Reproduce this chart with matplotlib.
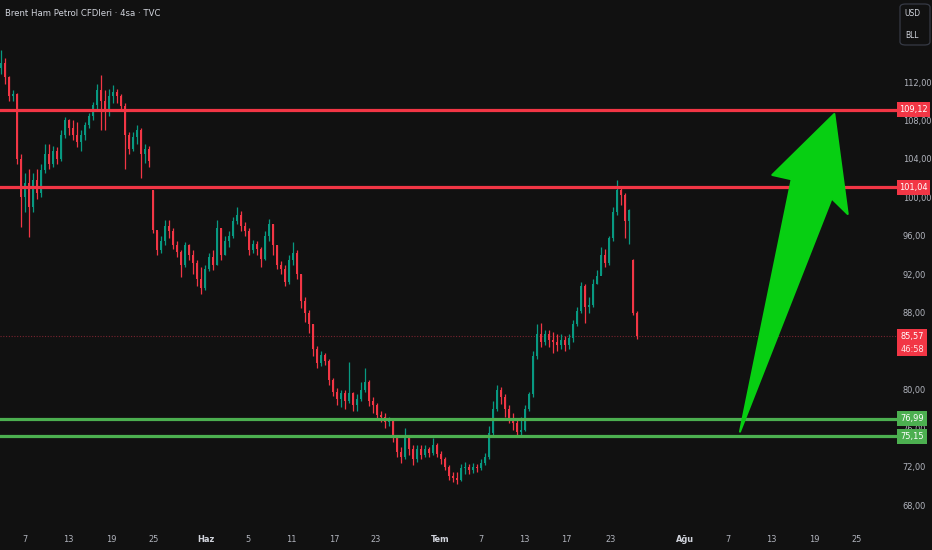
import matplotlib
matplotlib.use('Agg')
import matplotlib.pyplot as plt
import matplotlib.transforms as mtransforms
from matplotlib.patches import Polygon, Rectangle, FancyBboxPatch

plt.rcParams['font.family'] = ['DejaVu Sans']
plt.rcParams['font.stretch'] = 'condensed'

# ---------------- data ----------------
title = "Brent Ham Petrol CFDleri · 4sa · TVC"
first_open = 113.5
closes = [114.0, 112.5, 110.5, 110.8, 104.0, 100.0, 101.5, 99.0, 101.8, 100.5,
          102.8, 104.5, 103.5, 104.8, 104.0, 106.5, 108.0, 107.2, 106.5, 105.8,
          106.5, 107.5, 108.5, 109.6, 111.2, 110.0, 109.0, 110.5, 111.0, 110.5,
          109.5, 106.5, 105.0, 106.3, 107.0, 104.5, 105.0, 103.8, 96.6, 94.5,
          95.5, 97.0, 96.5, 95.0, 94.3, 93.0, 95.0, 94.0, 93.2, 91.5,
          90.6, 92.5, 93.8, 93.0, 96.8, 94.0, 95.5, 96.0, 97.5, 98.2,
          97.0, 96.5, 94.5, 95.2, 94.6, 93.6, 96.0, 97.2, 95.0, 93.0,
          92.6, 91.2, 93.5, 94.2, 92.0, 89.2, 88.0, 86.8, 84.2, 82.8,
          83.6, 83.0, 81.0, 79.8, 79.0, 79.6, 78.8, 79.6, 78.4, 79.0,
          80.0, 80.8, 78.8, 78.4, 77.4, 77.2, 76.6, 76.8, 75.0, 73.5,
          73.0, 75.0, 73.8, 72.8, 73.8, 73.2, 73.8, 73.4, 74.2, 73.3,
          72.8, 72.0, 71.0, 70.8, 70.6, 71.8, 72.0, 71.6, 72.0, 71.8,
          72.4, 73.0, 75.5, 78.0, 80.0, 79.2, 78.0, 77.0, 76.5, 75.6,
          75.8, 78.0, 79.5, 83.5, 85.8, 85.0, 85.8, 85.2, 85.0, 84.6,
          85.2, 84.6, 85.4, 86.8, 88.2, 90.8, 88.6, 88.8, 91.0, 91.8,
          94.0, 93.2, 95.8, 98.5, 100.8, 100.2, 97.5, 98.7, 88.0, 85.57]
highs = [115.3, 114.5, 112.6, 111.2, 110.9, 104.5, 102.5, 103.0, 102.5, 103.0,
         103.5, 105.6, 105.6, 105.3, 105.2, 107.0, 108.4, 108.2, 108.0, 107.8,
         107.0, 107.8, 108.8, 109.9, 111.8, 112.7, 111.2, 111.3, 111.7, 111.3,
         110.8, 109.8, 106.8, 106.8, 107.5, 107.2, 105.6, 105.3, 100.8, 96.5,
         96.0, 97.6, 97.6, 96.8, 95.5, 94.5, 95.4, 95.2, 94.5, 93.5,
         92.8, 93.0, 94.2, 94.5, 97.6, 96.8, 96.0, 96.5, 98.0, 99.0,
         98.6, 97.4, 96.8, 95.6, 95.5, 94.8, 96.5, 97.8, 97.2, 95.0,
         93.4, 93.0, 94.0, 95.4, 94.5, 92.0, 89.6, 88.3, 86.8, 84.5,
         84.0, 83.8, 83.2, 81.2, 80.2, 80.0, 80.0, 82.9, 79.8, 79.5,
         80.8, 82.2, 81.0, 79.2, 78.6, 77.8, 77.6, 77.2, 76.8, 75.2,
         74.0, 76.0, 75.2, 74.2, 74.2, 74.2, 74.2, 74.0, 75.0, 74.4,
         73.6, 73.0, 72.2, 71.4, 71.4, 72.3, 72.5, 72.3, 72.4, 72.3,
         72.8, 73.4, 76.2, 78.8, 80.5, 80.3, 79.5, 78.4, 77.6, 77.0,
         77.2, 78.4, 79.8, 84.0, 86.8, 86.9, 86.2, 86.2, 86.0, 85.8,
         85.8, 85.6, 85.8, 87.2, 88.6, 91.2, 91.0, 89.6, 91.5, 92.4,
         94.8, 94.6, 96.0, 99.0, 101.8, 101.2, 100.5, 98.8, 93.6, 88.2]
lows = [112.8, 111.8, 110.0, 110.0, 103.5, 96.9, 98.5, 95.9, 98.5, 99.8,
        100.0, 102.5, 103.0, 103.2, 103.5, 103.8, 106.2, 106.5, 106.0, 105.2,
        104.8, 106.0, 107.2, 108.0, 109.2, 107.0, 107.0, 108.5, 109.8, 109.8,
        109.0, 103.0, 104.5, 104.8, 105.5, 102.0, 103.6, 103.2, 96.3, 94.0,
        94.2, 95.0, 95.8, 94.6, 93.8, 91.7, 92.8, 93.5, 92.0, 90.8,
        90.0, 90.4, 92.3, 92.4, 93.0, 93.5, 94.0, 94.8, 95.8, 97.2,
        96.5, 96.0, 94.0, 94.2, 94.0, 92.8, 93.5, 95.5, 94.0, 92.5,
        92.0, 90.8, 91.0, 93.0, 91.5, 88.5, 87.0, 85.9, 83.5, 82.3,
        82.5, 82.6, 80.5, 79.3, 78.4, 78.2, 78.0, 78.6, 77.8, 77.8,
        78.8, 79.8, 78.3, 77.6, 76.8, 76.6, 76.0, 76.2, 74.6, 73.0,
        72.4, 72.8, 73.2, 72.2, 72.5, 72.8, 73.0, 73.0, 73.2, 73.0,
        72.3, 71.6, 70.6, 70.4, 70.2, 70.5, 71.2, 71.2, 71.3, 71.4,
        71.6, 72.2, 72.8, 75.2, 77.8, 78.5, 77.2, 76.5, 75.8, 75.2,
        75.1, 75.7, 77.8, 79.2, 83.2, 84.4, 84.6, 84.4, 83.8, 84.0,
        84.2, 84.0, 84.2, 85.0, 86.6, 88.0, 86.9, 88.0, 88.6, 91.0,
        92.0, 92.8, 93.0, 95.5, 98.2, 99.2, 95.8, 95.2, 87.8, 85.3]
gap_opens = {38: 100.8, 158: 93.5}

resistance_levels = [109.12, 101.04]
support_levels = [76.99, 75.15]
last_price = 85.57
countdown = "46:58"

# (84,00 is hidden behind the last-price label in the reference)
price_ticks = [68, 72, 76, 80, 88, 92, 96, 100, 104, 108, 112]
date_labels = ["7", "13", "19", "25", "Haz", "5", "11", "17", "23", "Tem",
               "7", "13", "17", "23", "Ağu", "7", "13", "19", "25"]
date_tick_pos = [6.0, 16.7, 27.5, 38.1, 51.2, 61.8, 72.5, 83.3, 93.7, 109.8,
                 120.0, 130.8, 141.4, 152.3, 171.0, 181.7, 192.5, 203.3, 213.9]
month_labels = {"Haz", "Tem", "Ağu"}

# arrow drawing (bar index, price)
arrow_pts = [(184.75, 75.63), (197.67, 101.88), (192.83, 102.33),
             (208.33, 108.67), (211.67, 98.27), (207.67, 99.90)]

# ---------------- style ----------------
BG = '#111111'
UP = '#089981'
DOWN = '#F23645'
RED = '#F23645'
GREEN = '#4CAF50'
TXT = '#B2B5BE'
FS = 6.6

fig = plt.figure(figsize=(9.32, 5.5), dpi=100, facecolor=BG)
ax = fig.add_axes([0, 25 / 550, 888 / 932, 525 / 550], facecolor=BG)

n = len(closes)
xs = list(range(n))
opens = [first_open] + closes[:-1]
for k, v in gap_opens.items():
    opens[k] = v
cols = [UP if c >= o else DOWN for o, c in zip(opens, closes)]
bottoms = [min(o, c) for o, c in zip(opens, closes)]
heights = [max(abs(c - o), 0.08) for o, c in zip(opens, closes)]

ax.vlines(xs, lows, highs, colors=cols, linewidth=0.9, zorder=2)
ax.bar(xs, heights, bottom=bottoms, width=0.62, color=cols, linewidth=0, zorder=2)

xmax_ext = 897 / 888
for lv in resistance_levels:
    ax.axhline(lv, xmin=0, xmax=xmax_ext, color=RED, linewidth=2.3, clip_on=False, zorder=3)
for lv in support_levels:
    ax.axhline(lv, xmin=0, xmax=xmax_ext, color=GREEN, linewidth=2.3, clip_on=False, zorder=3)
ax.axhline(last_price, xmin=0, xmax=xmax_ext, color='#7a2430', linewidth=0.8,
           linestyle=(0, (1, 1.5)), clip_on=False, zorder=1.8)

ax.add_patch(Polygon(arrow_pts, closed=True, facecolor='#07CF12', edgecolor='#07CF12',
                     linewidth=1.5, joinstyle='round', zorder=6))

# axes / ticks
for s in ax.spines.values():
    s.set_visible(False)
ax.yaxis.tick_right()
ax.set_yticks(price_ticks)
ax.set_yticklabels([f"{v:.2f}".replace('.', ',') for v in price_ticks])
ax.tick_params(axis='y', length=0, pad=10.5, colors=TXT, labelsize=FS)
ax.set_xticks(date_tick_pos)
ax.set_xticklabels(date_labels)
ax.tick_params(axis='x', length=0, pad=7, colors=TXT, labelsize=FS)
for lab in ax.get_xticklabels():
    if lab.get_text() in month_labels:
        lab.set_color('#D1D4DC')
        lab.set_fontweight('bold')

# price labels on the scale
blend = mtransforms.blended_transform_factory(fig.transFigure, ax.transData)
ppx = 9.614  # pixels per price unit


def scale_label(price, text, color, width_px, height_px=15, lines=None):
    h = height_px / ppx
    top = price + 7.5 / ppx
    rect = Rectangle((897 / 932, top - h), width_px / 932, h, transform=blend,
                     facecolor=color, edgecolor='none', clip_on=False, zorder=7)
    ax.add_patch(rect)
    cx = (897 + width_px / 2) / 932
    ax.text(cx, price, text, transform=blend, ha='center', va='center',
            color='white', fontsize=FS, clip_on=False, zorder=8)
    if lines:
        ax.text(cx, price - 13 / ppx, lines, transform=blend, ha='center', va='center',
                color='#FFE4E6', fontsize=FS, clip_on=False, zorder=8)


scale_label(resistance_levels[0], f"{resistance_levels[0]:.2f}".replace('.', ','), RED, 33)
scale_label(resistance_levels[1], f"{resistance_levels[1]:.2f}".replace('.', ','), RED, 33)
scale_label(support_levels[0], f"{support_levels[0]:.2f}".replace('.', ','), GREEN, 30)
scale_label(support_levels[1], f"{support_levels[1]:.2f}".replace('.', ','), GREEN, 30)
scale_label(last_price, f"{last_price:.2f}".replace('.', ','), RED, 30, height_px=27, lines=countdown)

ax.set_xlim(-0.25, 221.75)
ax.set_ylim(65.92, 120.53)

# title and currency box
fig.text(5 / 932, 1 - 14 / 550, title, ha='left', va='center', color='#D1D4DC', fontsize=6.8)
box = FancyBboxPatch((900 / 932, 1 - 45 / 550), 30 / 932, 41 / 550,
                     boxstyle='round,pad=0,rounding_size=0.006', transform=fig.transFigure,
                     facecolor=BG, edgecolor='#363A45', linewidth=0.9)
fig.patches.append(box)
fig.text(912 / 932, 1 - 14 / 550, "USD", ha='center', va='center', color='#D1D4DC', fontsize=6)
fig.text(912 / 932, 1 - 35 / 550, "BLL", ha='center', va='center', color='#D1D4DC', fontsize=6)

fig.savefig('out.png', dpi=100, facecolor=BG)
